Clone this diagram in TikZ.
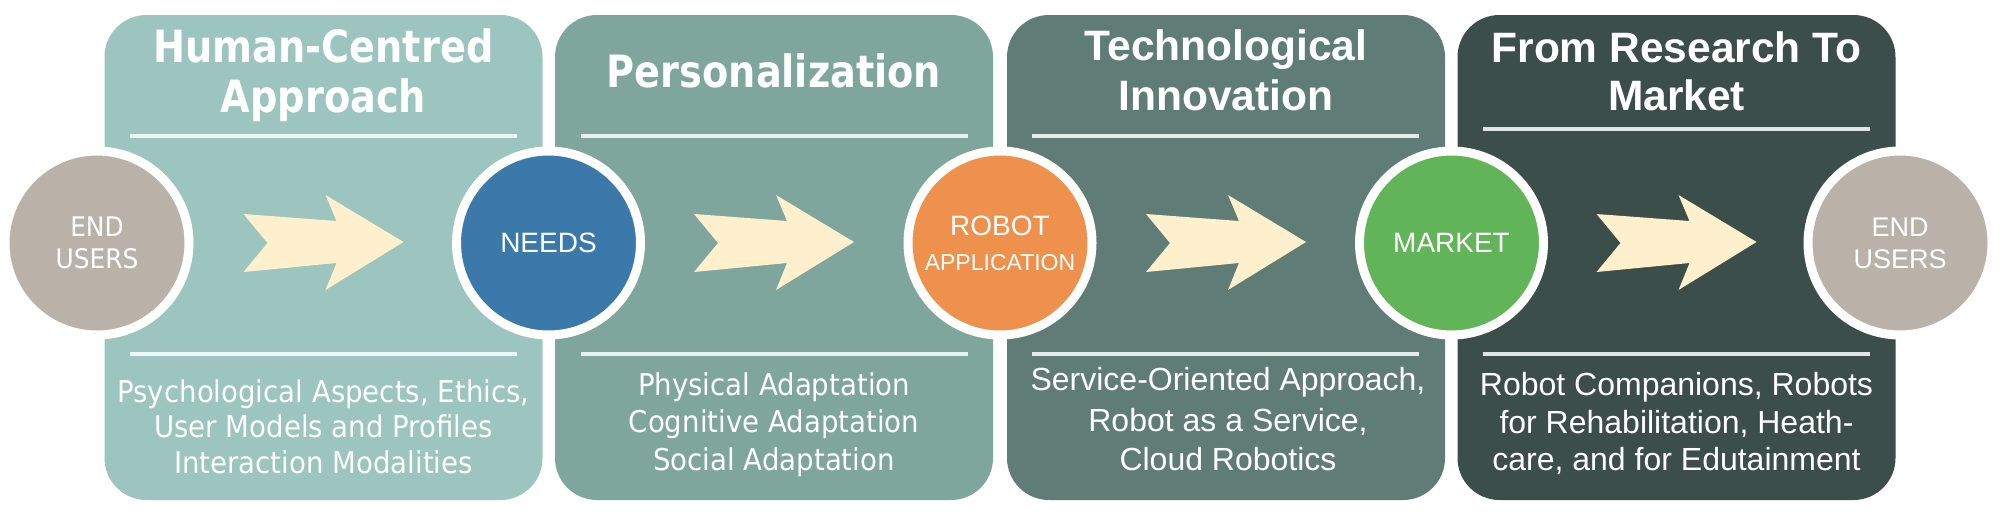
\documentclass[tikz,border=0pt]{standalone}
\usepackage{fontspec}
\setmainfont{Liberation Sans}
\newfontfamily\tahR{DejaVu Sans}[FakeStretch=0.92]
\newfontfamily\tahB{DejaVu Sans}[FakeStretch=0.86]
\definecolor{boxA}{HTML}{9BC5BE}
\definecolor{boxB}{HTML}{7FA69D}
\definecolor{boxC}{HTML}{5F7D76}
\definecolor{boxD}{HTML}{3C4E49}
\definecolor{usergray}{HTML}{BAB1A9}
\definecolor{needsblue}{HTML}{3A79A9}
\definecolor{robotorange}{HTML}{EE914C}
\definecolor{marketgreen}{HTML}{62B459}
\definecolor{cream}{HTML}{FEF0CD}
\newcommand\TitleT{\tahB\bfseries\fontsize{44.5}{50}\selectfont}
\newcommand\BodyT{\tahR\fontsize{30}{36}\selectfont}
\newcommand\TitleA{\bfseries\fontsize{42.5}{48}\selectfont}
\newcommand\BodyA{\fontsize{32}{38}\selectfont}
\begin{document}
\begin{tikzpicture}[x=1pt,y=-1pt,
  panel/.style={rectangle, rounded corners=42, minimum width=438, minimum height=485, inner sep=0, draw=none},
  sepline/.style={draw=white, draw opacity=0.85, line width=3.5},
  stage/.style={circle, minimum size=184, inner sep=0, draw=white, line width=9, text=white, align=center},
  txt/.style={anchor=base, inner sep=0, text=white},
  fwdarrow/.pic={\fill[cream] (-80,-28) -- (13,-21) -- (2,-47) -- (80,0) -- (2,48) -- (13,21) -- (-80,30) -- (-56,1) -- cycle;}
]
\useasboundingbox (0,0) rectangle (2000,517);
\fill[white] (0,0) rectangle (2000,517);

% panels
\node[panel, fill=boxA] (b1) at (323.5,257.5) {};
\node[panel, fill=boxB] (b2) at (774,257.5) {};
\node[panel, fill=boxC] (b3) at (1226,257.5) {};
\node[panel, fill=boxD] (b4) at (1676.5,257.5) {};

% separator lines
\draw[sepline] (130,136) -- (517,136);
\draw[sepline] (130,354) -- (517,354);
\draw[sepline] (581,136) -- (968,136);
\draw[sepline] (581,354) -- (968,354);
\draw[sepline] (1032,136) -- (1419,136);
\draw[sepline] (1032,354) -- (1419,354);
\draw[sepline] (1483,129) -- (1870,129);
\draw[sepline] (1483,354) -- (1870,354);

% arrows
\pic at (323.5,242) {fwdarrow};
\pic at (774,242) {fwdarrow};
\pic at (1226,242) {fwdarrow};
\pic at (1676.5,242) {fwdarrow};

% stage circles
\node[stage, fill=usergray, font=\tahR\fontsize{27}{32}\selectfont] (u1) at (97,243) {END\\USERS};
\node[stage, fill=needsblue, font=\fontsize{28}{33}\selectfont] (needs) at (548.5,243) {NEEDS};
\node[stage, fill=robotorange, font=\fontsize{28}{35}\selectfont] (robot) at (1000,243) {ROBOT\\{\fontsize{23}{35}\selectfont APPLICATION}};
\node[stage, fill=marketgreen, font=\fontsize{28}{33}\selectfont] (market) at (1451.5,243) {MARKET};
\node[stage, fill=usergray, font=\fontsize{27}{32}\selectfont] (u2) at (1900,243) {END\\USERS};

% titles
\node[txt, font=\TitleT] (t1a) at (323.5,62) {Human-Centred};
\node[txt, font=\TitleT] (t1b) at (323.5,112) {Approach};
\node[txt, font=\TitleT] (t2a) at (774,87) {Personalization};
\node[txt, font=\TitleA] (t3a) at (1226,60) {Technological};
\node[txt, font=\TitleA] (t3b) at (1226,110) {Innovation};
\node[txt, font=\TitleA] (t4a) at (1676.5,62) {From Research To};
\node[txt, font=\TitleA] (t4b) at (1676.5,110) {Market};

% bodies
\node[txt, font=\BodyT] (d1a) at (323.5,402) {Psychological Aspects, Ethics,};
\node[txt, font=\BodyT] (d1b) at (323.5,437.5) {User Models and Profiles};
\node[txt, font=\BodyT] (d1c) at (323.5,473) {Interaction Modalities};
\node[txt, font=\BodyT] (d2a) at (774,395) {Physical Adaptation};
\node[txt, font=\BodyT] (d2b) at (774,432.5) {Cognitive Adaptation};
\node[txt, font=\BodyT] (d2c) at (774,470) {Social Adaptation};
\node[txt, font=\BodyA] (d3a) at (1228,390) {Service-Oriented Approach,};
\node[txt, font=\BodyA] (d3b) at (1228,431) {Robot as a Service,};
\node[txt, font=\BodyA] (d3c) at (1228,470) {Cloud Robotics};
\node[txt, font=\BodyA] (d4a) at (1676.5,395) {Robot Companions, Robots};
\node[txt, font=\BodyA] (d4b) at (1676.5,433) {for Rehabilitation, Heath-};
\node[txt, font=\BodyA] (d4c) at (1676.5,470) {care, and for Edutainment};
\end{tikzpicture}
\end{document}
